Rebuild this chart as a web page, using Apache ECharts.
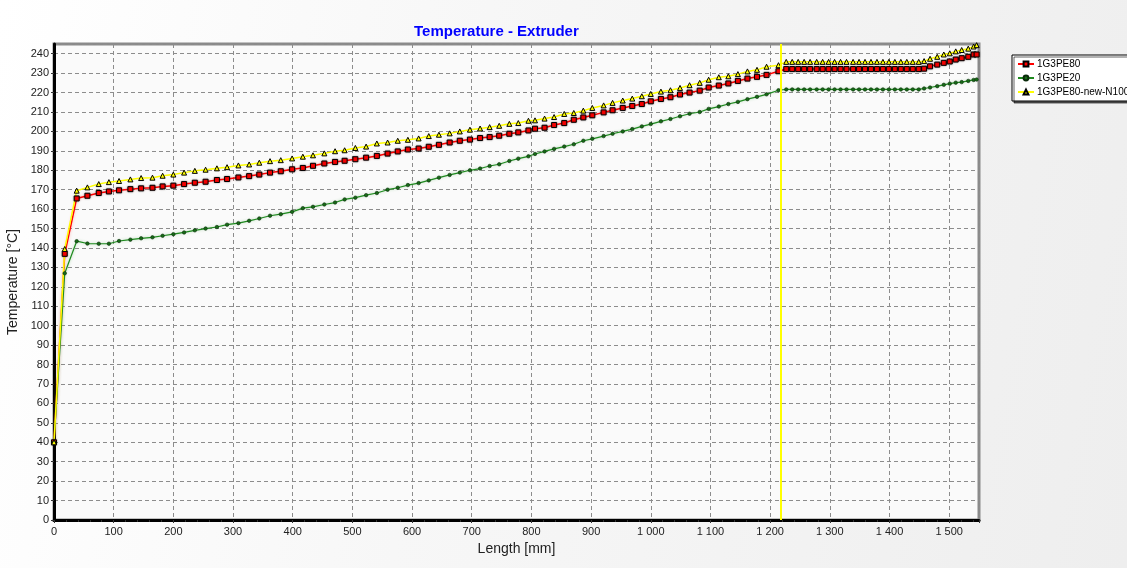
<html lang="en">
<head>
    <meta charset="UTF-8">
    <title>Temperature - Extruder</title>
    <script src="https://cdnjs.cloudflare.com/ajax/libs/echarts/6.0.0/echarts.min.js"></script>
</head>

<style>
    body {
        margin: 0;
        font-family: "Liberation Sans", Arial, sans-serif;
    }
    #Chart1 {
        width: 1127px;
        height: 568px;
        background: linear-gradient(100deg, #ffffff 0%, #f7f7f7 40%, #eeeeee 100%);
    }
</style>

<body>
    <div id="Chart1"></div>
</body>

<script>

// Length positions [mm] of the computed points (shared by all three runs)
const lengthMm = [
    0, 18, 38, 56, 75, 92, 109, 128, 146, 165, 182, 200, 218, 236, 254, 273, 290, 309, 327, 344,
    362, 380, 399, 417, 434, 453, 471, 487, 505, 523, 541, 559, 576, 593, 611, 628, 645, 663, 680, 697,
    714, 730, 746, 763, 778, 795, 806, 822, 838, 855, 871, 887, 902, 921, 936, 953, 969, 985, 1000, 1017,
    1033, 1049, 1065, 1082, 1097, 1114, 1130, 1146, 1162, 1178, 1194, 1214,
    1227, 1237, 1247, 1257, 1267, 1278, 1288, 1298, 1308, 1318, 1328, 1339, 1349, 1359, 1369, 1379,
    1389, 1399, 1409, 1419, 1429, 1439, 1449, 1458, 1468, 1480, 1491, 1501, 1511, 1521, 1532, 1541, 1546
];

// Temperatures [°C]
const tempPE80 = [
    40, 137, 165.5, 166.9, 168.3, 169.1, 169.7, 170.3, 170.7, 171.0, 171.7, 172.1, 172.9, 173.6, 174.1, 175.0, 175.5, 176.3, 177.0, 177.8,
    178.8, 179.5, 180.5, 181.2, 182.3, 183.5, 184.3, 184.9, 185.7, 186.5, 187.4, 188.6, 189.7, 190.7, 191.2, 192.1, 193.1, 194.3, 195.2, 195.8,
    196.6, 197.1, 197.8, 198.8, 199.5, 200.5, 201.4, 201.9, 203.3, 204.3, 206.0, 207.2, 208.3, 209.8, 210.9, 212.1, 213.1, 214.1, 215.5, 216.7,
    217.6, 219.0, 220.0, 221.0, 222.6, 223.6, 224.7, 226.0, 227.2, 228.1, 229.1, 231.0,
    232.1, 232.1, 232.1, 232.1, 232.1, 232.1, 232.1, 232.1, 232.1, 232.1, 232.1, 232.1, 232.1, 232.1, 232.1, 232.1,
    232.1, 232.1, 232.1, 232.1, 232.1, 232.1, 232.1, 232.3, 233.5, 234.4, 235.3, 236.0, 237.0, 237.7, 238.4, 239.6, 239.6
];

const tempPE20 = [
    40, 127, 143.5, 142.3, 142.2, 142.2, 143.6, 144.3, 145.0, 145.5, 146.3, 147.1, 148.0, 149.1, 150.0, 150.8, 152.0, 152.8, 154.0, 155.2,
    156.6, 157.4, 158.6, 160.5, 161.2, 162.4, 163.4, 165.0, 165.9, 167.2, 168.3, 170.0, 171.0, 172.4, 173.4, 174.8, 176.2, 177.6, 178.8, 180.0,
    180.9, 182.2, 183.1, 184.8, 186.0, 187.2, 188.4, 189.7, 191.0, 192.2, 193.4, 195.2, 196.2, 197.6, 198.8, 200.0, 201.2, 202.6, 203.8, 205.2,
    206.4, 207.8, 209.1, 210.0, 211.6, 212.8, 214.1, 215.2, 216.6, 217.8, 219.1, 221.2,
    221.6, 221.6, 221.6, 221.6, 221.6, 221.6, 221.6, 221.6, 221.6, 221.6, 221.6, 221.6, 221.6, 221.6, 221.6, 221.6,
    221.6, 221.6, 221.6, 221.6, 221.6, 221.6, 221.6, 222.1, 222.6, 223.3, 224.0, 224.6, 225.1, 225.4, 226.0, 226.5, 226.7
];

const tempN100 = [
    40, 139.5, 169.5, 171.2, 172.9, 173.9, 174.5, 175.3, 176.0, 176.2, 177.2, 177.8, 178.8, 179.7, 180.3, 181.0, 181.6, 182.5, 183.0, 183.9,
    184.7, 185.2, 186.1, 187.0, 187.7, 188.7, 189.8, 190.3, 191.5, 192.2, 193.8, 194.3, 195.2, 195.7, 196.4, 197.6, 198.3, 199.0, 200.0, 200.9,
    201.5, 202.2, 202.9, 203.9, 204.3, 205.5, 205.7, 206.6, 207.4, 209.0, 209.5, 210.7, 212.1, 213.4, 214.7, 215.9, 216.9, 218.1, 219.3, 220.5,
    221.2, 222.4, 223.8, 225.0, 226.6, 227.9, 228.4, 229.5, 230.9, 231.7, 233.3, 234.1,
    235.8, 235.8, 235.8, 235.8, 235.8, 235.8, 235.8, 235.8, 235.8, 235.8, 235.8, 235.8, 235.8, 235.8, 235.8, 235.8,
    235.8, 235.8, 235.8, 235.8, 235.8, 235.8, 235.8, 236.2, 237.4, 238.4, 239.6, 240.2, 241.2, 241.9, 242.6, 243.7, 244.4
];

const seriesNames = ['1G3PE80', '1G3PE20', '1G3PE80-new-N100'];
const cursorLength = 1218;   // yellow marker line position [mm]

function pairUp(xs, ys) {
    let out = [];
    for (var i = 0; i < xs.length; i++) {
        out.push([xs[i], ys[i]]);
    }
    return out;
}

// "1 000" style labels
function spaceThousands(v) {
    if (v >= 1000) {
        return Math.floor(v / 1000) + ' ' + String(v % 1000).padStart(3, '0');
    }
    return String(v);
}

let myChart1 = echarts.init(document.getElementById('Chart1'));

const fontName = 'Liberation Sans';
const dashGrid = { color: '#8c8c8c', width: 1, type: [4, 3] };

let option = {
    backgroundColor: 'transparent',
    animation: false,
    title: {
        text: 'Temperature - Extruder',
        left: 409,
        top: 19,
        textStyle: { color: '#0000ff', fontSize: 15, fontWeight: 'bold', fontFamily: fontName }
    },
    legend: {
        orient: 'vertical',
        left: 1012,
        top: 55,
        data: seriesNames,
        backgroundColor: '#ffffff',
        borderColor: '#000000',
        borderWidth: 1,
        padding: [4, 6, 4, 5],
        itemGap: 4,
        itemWidth: 16,
        itemHeight: 6,
        shadowColor: 'rgba(0,0,0,0.6)',
        shadowOffsetX: 2,
        shadowOffsetY: 2,
        shadowBlur: 0,
        textStyle: { fontSize: 10, color: '#000', fontFamily: fontName, padding: [0, 0, 0, -2] }
    },
    grid: {
        left: 54,
        right: 148,
        top: 44,
        bottom: 48,
        outerBoundsMode: 'none',
        containLabel: false,
        show: true,
        backgroundColor: '#fafafa',
        borderColor: '#8a8a8a',
        borderWidth: 3
    },
    xAxis: {
        type: 'value',
        min: 0,
        max: 1550,
        interval: 100,
        name: 'Length [mm]',
        nameLocation: 'middle',
        nameGap: 22,
        nameTextStyle: { fontSize: 14, color: '#222', fontFamily: fontName },
        axisLine: { onZero: false, lineStyle: { color: '#000', width: 3 } },
        axisTick: { show: true, length: 3, lineStyle: { color: '#333' } },
        minorTick: { show: true, splitNumber: 5, length: 2, lineStyle: { color: '#333' } },
        axisLabel: {
            showMaxLabel: false,
            fontSize: 11,
            color: '#222',
            fontFamily: fontName,
            margin: 6,
            formatter: spaceThousands
        },
        splitLine: { show: true, lineStyle: dashGrid }
    },
    yAxis: {
        type: 'value',
        min: 0,
        max: 245,
        interval: 10,
        name: 'Temperature [°C]',
        nameLocation: 'middle',
        nameGap: 33,
        nameTextStyle: { fontSize: 14, color: '#222', fontFamily: fontName },
        axisLine: { show: true, onZero: false, lineStyle: { color: '#000', width: 3 } },
        axisTick: { show: true, length: 3, lineStyle: { color: '#333' } },
        axisLabel: {
            showMaxLabel: false,
            fontSize: 11,
            color: '#222',
            fontFamily: fontName,
            margin: 5,
            formatter: function (v) { return v % 10 === 0 ? String(v) : ''; }
        },
        splitLine: { show: true, lineStyle: dashGrid }
    },
    series: [
        {
            name: seriesNames[0],
            type: 'line',
            data: pairUp(lengthMm, tempPE80),
            symbol: 'rect',
            symbolSize: 5,
            showAllSymbol: true,
            lineStyle: { color: '#ff0000', width: 1.5, shadowColor: 'rgba(255,80,80,0.45)', shadowBlur: 3 },
            itemStyle: { color: '#ff0000', borderColor: '#000', borderWidth: 1, shadowColor: 'rgba(0,0,0,0.35)', shadowBlur: 2 },
            markLine: {
                silent: true,
                symbol: 'none',
                label: { show: false },
                lineStyle: { color: '#ffff00', width: 2, type: 'solid' },
                data: [{ xAxis: cursorLength }]
            }
        },
        {
            name: seriesNames[1],
            type: 'line',
            data: pairUp(lengthMm, tempPE20),
            symbol: 'circle',
            symbolSize: 3.5,
            showAllSymbol: true,
            lineStyle: { color: '#1f8a1f', width: 1.2, shadowColor: 'rgba(60,160,60,0.4)', shadowBlur: 3 },
            itemStyle: { color: '#166b16', borderColor: '#0a2a0a', borderWidth: 0.6 }
        },
        {
            name: seriesNames[2],
            type: 'line',
            data: pairUp(lengthMm, tempN100),
            symbol: 'triangle',
            symbolSize: 5,
            showAllSymbol: true,
            lineStyle: { color: '#ffff00', width: 1.5 },
            itemStyle: { color: '#ffff00', borderColor: '#000', borderWidth: 1 }
        }
    ]
};

myChart1.setOption(option, true);

</script>

</html>
